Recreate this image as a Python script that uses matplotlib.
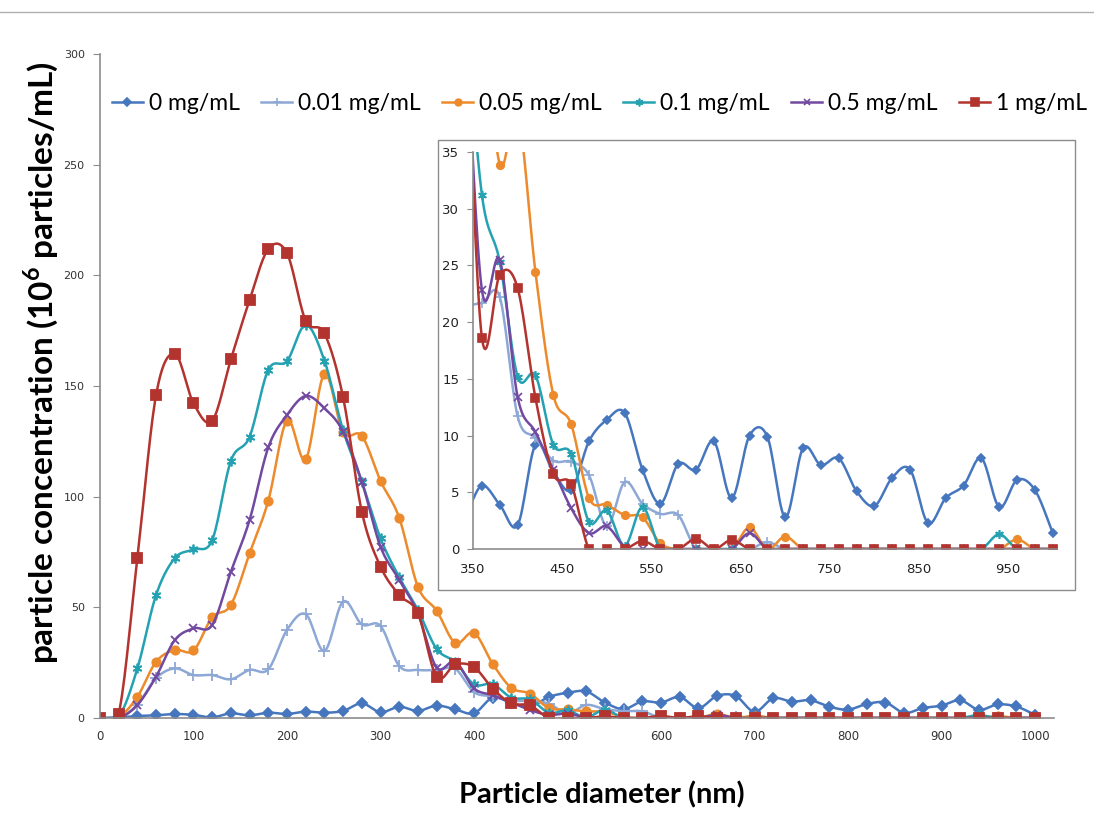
import numpy as np
import matplotlib.pyplot as plt
from matplotlib.patches import Rectangle
from matplotlib.lines import Line2D

plt.rcParams['mathtext.fontset'] = 'custom'
plt.rcParams['mathtext.rm'] = 'Lato'
plt.rcParams['mathtext.bf'] = 'Lato:bold'

# particle diameter (nm), 20 nm bins
diameter = np.arange(0, 1001, 20)

conc_0 = [0, 0.3, 0.9, 1.2, 1.8, 1.4, 0.3, 2.1, 1.2, 2.4, 1.8, 2.9, 2.4, 3.2, 6.6, 2.6, 5.1,
          3.2, 5.6, 3.9, 2.1, 9.2, 6.8, 5.2, 9.5, 11.4, 12.0, 7.0, 4.0, 7.5, 7.0, 9.5, 4.5,
          10.0, 9.9, 2.8, 8.9, 7.4, 8.0, 5.1, 3.8, 6.3, 7.0, 2.3, 4.5, 5.6, 8.0, 3.7, 6.1, 5.2, 1.4]
conc_001 = [0, 0, 6, 18, 22.4, 19.4, 19.4, 17.5, 21.7, 22, 39.8, 46.9, 30.3, 52.6, 42.3, 41.6, 23.5,
            21.7, 21.7, 22.2, 11.7, 9.8, 7.8, 7.7, 6.5, 2.0, 5.9, 4.0, 3.1, 3.0, 0, 0, 0,
            0, 0.6, 0, 0, 0, 0, 0, 0, 0, 0, 0, 0, 0, 0, 0, 0, 0, 0]
conc_005 = [0, 0.4, 9.6, 25.4, 30.7, 30.5, 45.5, 51.1, 74.4, 98.2, 134.4, 116.9, 155.4, 129, 127.5, 107.1, 90.5,
            59.3, 48.5, 33.9, 38.5, 24.4, 13.6, 11.0, 4.5, 3.9, 3.0, 2.8, 0.5, 0, 0, 0, 0,
            1.9, 0, 1.1, 0, 0, 0, 0, 0, 0, 0, 0, 0, 0, 0, 0, 0.85, 0, 0]
conc_01 = [0, 0.5, 22.4, 55.6, 72.2, 76.2, 80.4, 116.2, 127.1, 157.3, 161.3, 177.6, 161.5, 130, 106.8, 81.2, 63.6,
           48.8, 31.2, 25.3, 15.2, 15.3, 9.2, 8.4, 2.4, 3.4, 0.3, 3.7, 0, 0, 0, 0, 0,
           0, 0, 0, 0, 0, 0, 0, 0, 0, 0, 0, 0, 0, 0, 1.3, 0, 0, 0]
conc_05 = [0, 0, 5.9, 18.7, 35.2, 40.5, 42, 66.1, 89.5, 122.3, 136.9, 145.5, 140, 129.4, 106.8, 77.4, 62.4,
           47.3, 22.8, 25.5, 13.4, 10.3, 7.0, 3.6, 1.4, 2.0, 0.2, 0, 0, 0, 0, 0, 0,
           1.4, 0, 0, 0, 0, 0, 0, 0, 0, 0, 0, 0, 0, 0, 0, 0, 0, 0]
conc_1 = [0, 2, 72.2, 146, 164.5, 142.2, 134.3, 162.1, 188.9, 211.9, 210, 179.5, 173.8, 144.9, 93.2, 68.4, 55.6,
          47.3, 18.6, 24.2, 23.0, 13.3, 6.6, 5.7, 0, 0, 0, 0.7, 0, 0, 0.9, 0, 0.8,
          0, 0, 0, 0, 0, 0, 0, 0, 0, 0, 0, 0, 0, 0, 0, 0, 0, 0]

labels = ['0 mg/mL', '0.01 mg/mL', '0.05 mg/mL', '0.1 mg/mL', '0.5 mg/mL', '1 mg/mL']
colors = ['#4677BE', '#8EA8D6', '#EC8A2C', '#24A2B2', '#7249A0', '#B3332F']
markers = ['D', '+', 'o', (6, 2, 0), 'x', 's']
msizes = [5, 8, 6, 7, 6, 6.5]
series = [conc_0, conc_001, conc_005, conc_01, conc_05, conc_1]


def smooth(x, y, steps=16):
    # Catmull-Rom curve through the points, drawn as cubic Bezier pieces
    x = np.asarray(x, float)
    y = np.asarray(y, float)
    px = np.concatenate([[x[0]], x, [x[-1]]])
    py = np.concatenate([[y[0]], y, [y[-1]]])
    t = np.linspace(0, 1, steps, endpoint=False)[:, None]
    xs, ys = [], []
    for i in range(1, len(px) - 2):
        p0 = np.array([px[i - 1], py[i - 1]])
        p1 = np.array([px[i], py[i]])
        p2 = np.array([px[i + 1], py[i + 1]])
        p3 = np.array([px[i + 2], py[i + 2]])
        c1 = p1 + (p2 - p0) / 6
        c2 = p2 - (p3 - p1) / 6
        pts = ((1 - t) ** 3 * p1 + 3 * (1 - t) ** 2 * t * c1
               + 3 * (1 - t) * t ** 2 * c2 + t ** 3 * p2)
        xs.append(pts[:, 0])
        ys.append(pts[:, 1])
    xs.append([x[-1]])
    ys.append([y[-1]])
    return np.concatenate(xs), np.concatenate(ys)


fig = plt.figure(figsize=(10.94, 8.25), dpi=100)
fig.add_artist(Line2D([0, 1], [0.986, 0.986], color='#B0B0B0', lw=1))

# main chart
ax = fig.add_axes([0.0914, 0.1297, 0.8718, 0.8048])
ax.set_zorder(0)
for y, c, m, ms in zip(series, colors, markers, msizes):
    sx, sy = smooth(diameter, y)
    ax.plot(sx, sy, color=c, lw=1.8)
    ax.plot(diameter, y, ls='none', marker=m, ms=ms, color=c, mec=c, mew=1.3)
ax.set_xlim(0, 1020)
ax.set_ylim(0, 300)
ax.set_xticks(np.arange(0, 1001, 100))
ax.set_yticks(np.arange(0, 301, 50))
for s in ['top', 'right']:
    ax.spines[s].set_visible(False)
for s in ['left', 'bottom']:
    ax.spines[s].set_color('#8C8C8C')
    ax.spines[s].set_linewidth(1.2)
ax.tick_params(axis='y', length=5, color='#8C8C8C', labelsize=8, labelcolor='#333333', pad=6)
ax.tick_params(axis='x', length=0, labelsize=8.5, labelcolor='#333333', pad=9)

fig.text(0.550, 0.036, 'Particle diameter (nm)', fontsize=21, fontweight='bold',
         family='Lato', ha='center', va='center')
fig.text(0.037, 0.561, r'particle concentration (10$^{\mathbf{6}}$ particles/mL)', fontsize=24,
         fontweight='bold', family='Lato', ha='center', va='center', rotation=90)

handles = [Line2D([], [], color=c, lw=1.8, marker=m, ms=ms * 0.8, mec=c, mew=1.2)
           for c, m, ms in zip(colors, markers, msizes)]
fig.legend(handles, labels, loc='center left', bbox_to_anchor=(0.094, 0.875), ncol=6,
           frameon=False, prop={'family': 'Lato', 'size': 16.5}, handlelength=1.35,
           handletextpad=0.25, columnspacing=0.95, borderaxespad=0)

# zoomed view of the tail
frame = Rectangle((0.4004, 0.2848), 0.5823, 0.5455, transform=fig.transFigure,
                  facecolor='white', edgecolor='#8C8C8C', lw=1, zorder=1)
fig.add_artist(frame)

ins = fig.add_axes([0.4324, 0.3345, 0.534, 0.4812])
ins.set_zorder(2)
ins.patch.set_alpha(0)
for y, c, m, ms in zip(series, colors, markers, msizes):
    sx, sy = smooth(diameter, y)
    ins.plot(sx, sy, color=c, lw=1.8)
    ins.plot(diameter, y, ls='none', marker=m, ms=ms * 0.9, color=c, mec=c, mew=1.2)
ins.set_xlim(350, 1005)
ins.set_ylim(0, 35)
ins.set_xticks(np.arange(350, 1000, 100))
ins.set_yticks(np.arange(0, 36, 5))
for s in ['top', 'right']:
    ins.spines[s].set_visible(False)
for s in ['left', 'bottom']:
    ins.spines[s].set_color('#8C8C8C')
    ins.spines[s].set_linewidth(1.2)
ins.tick_params(axis='y', length=4, color='#8C8C8C', labelsize=9.5, labelcolor='#222222', pad=6)
ins.tick_params(axis='x', length=0, labelsize=9.5, labelcolor='#222222', pad=10)

fig.savefig('out.png', dpi=100)
